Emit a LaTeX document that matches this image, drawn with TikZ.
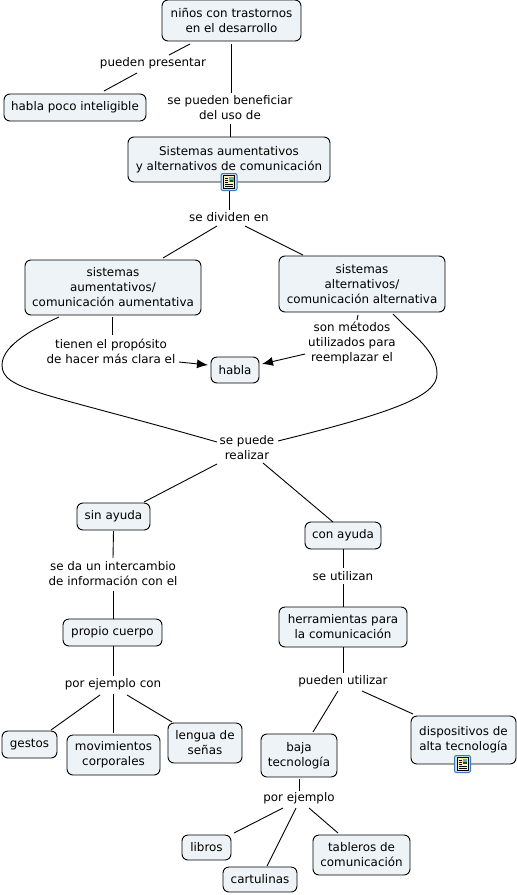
\documentclass[tikz,border=0pt]{standalone}
\usepackage{fontspec}
\setmainfont{DejaVu Sans}
\usetikzlibrary{arrows.meta}
\definecolor{conceptfill}{HTML}{EDF3F6}
\definecolor{iconblue}{HTML}{3A78C0}
\definecolor{iconrim}{HTML}{CFE2F5}
\definecolor{iconpage}{HTML}{FBF3B5}
\newcommand{\noteicon}[1]{
	\begin{scope}[shift={(#1)}]
		\draw[iconblue, fill=iconrim, rounded corners=2pt, line width=1pt](-8,-8.5) rectangle (8,8.5);
		\draw[black, fill=iconpage, line width=0.7pt](-5.5,-6.5) rectangle (5.5,6.5);
		\fill[iconblue!70](0,-5.5) rectangle (4.5,-0.5);
		\fill[green!40!black](0.5,-2) rectangle (4,-0.5);
		\foreach \ypos in {-4,-2,0}{
			\draw[black, line width=0.5pt](-4,\ypos) -- (-1,\ypos);
		}
		\foreach \ypos in {2,4}{
			\draw[black, line width=0.5pt](-4,\ypos) -- (4,\ypos);
		}
	\end{scope}
}
\begin{document}
\begin{tikzpicture}[x=1pt, y=-1pt, line width=0.9pt, font=\fontsize{11.9}{15}\selectfont, concept_node/.style={draw=black, fill=conceptfill, rounded corners=6pt, align=center, inner sep=0pt, line width=0.9pt}, link_node/.style={align=center, inner sep=0pt}, big_arrow/.style={-{Latex[length=11pt,width=9pt]}}]
				\useasboundingbox (0,0) rectangle (517,895);
				\node[concept_node, minimum width=139, minimum height=41](ninos) at (231.5,20.5){niños con trastornos\\en el desarrollo};
				\node[concept_node, minimum width=142, minimum height=27](poco) at (75,107.5){habla poco inteligible};
				\node[concept_node, minimum width=202, minimum height=45](sistemas) at (229,159.5){Sistemas aumentativos\\y alternativos de comunicación};
				\node[concept_node, minimum width=176, minimum height=55](aumentativa) at (113,287.5){sistemas\\aumentativos/\\comunicación aumentativa};
				\node[concept_node, minimum width=166, minimum height=56](alternativa) at (362,284){sistemas\\alternativos/\\comunicación alternativa};
				\node[concept_node, minimum width=48, minimum height=26](habla) at (235,370){habla};
				\node[concept_node, minimum width=73, minimum height=27](sin) at (113.5,516.5){sin ayuda};
				\node[concept_node, minimum width=76, minimum height=27](con) at (343,535.5){con ayuda};
				\node[concept_node, minimum width=99, minimum height=27](cuerpo) at (112.5,632.5){propio cuerpo};
				\node[concept_node, minimum width=128, minimum height=40](herramientas) at (343,627){herramientas para\\la comunicación};
				\node[concept_node, minimum width=55, minimum height=27](gestos) at (29.5,744.5){gestos};
				\node[concept_node, minimum width=93, minimum height=40](movimientos) at (113.5,755){movimientos\\corporales};
				\node[concept_node, minimum width=74, minimum height=40](lengua) at (205,743){lengua de\\señas};
				\node[concept_node, minimum width=76, minimum height=43](baja) at (299,755.5){baja\\tecnología};
				\node[concept_node, minimum width=105, minimum height=48](dispositivos) at (463.5,740){dispositivos de\\alta tecnología};
				\node[concept_node, minimum width=49, minimum height=25](libros) at (206.5,847.5){libros};
				\node[concept_node, minimum width=74, minimum height=25](cartulinas) at (260,879.5){cartulinas};
				\node[concept_node, minimum width=97, minimum height=40](tableros) at (361.5,855){tableros de\\comunicación};
				\node[link_node](presentar) at (153,63){pueden presentar};
				\node[link_node](beneficiar) at (230,108){se pueden beneficiar\\del uso de};
				\node[link_node](dividen) at (229,217){se dividen en};
				\node[link_node](proposito) at (111,351){tienen el propósito\\de hacer más clara el};
				\node[link_node](metodos) at (352,343){son métodos\\utilizados para\\reemplazar el};
				\node[link_node](realizar) at (247,448){se puede\\realizar};
				\node[link_node](intercambio) at (113,574){se da un intercambio\\de información con el};
				\node[link_node](ejemplocon) at (113,684){por ejemplo con};
				\node[link_node](utilizan) at (343,576){se utilizan};
				\node[link_node](utilizar) at (343,681){pueden utilizar};
				\node[link_node](ejemplo) at (299,798){por ejemplo};
				\coordinate (left_bend) at (2,365);
				\coordinate (right_bend) at (437,374);
				\draw ([shift={(-41.5,23.5)}]ninos.center) -- ([shift={(16,-8)}]presentar.center);
				\draw ([shift={(-16,10)}]presentar.center) -- ([shift={(29,-16.5)}]poco.center);
				\draw ([shift={(0,23.5)}]ninos.center) -- ([shift={(1.5,-15)}]beneficiar.center);
				\draw ([shift={(0.5,16)}]beneficiar.center) -- ([shift={(1.5,-22.5)}]sistemas.center);
				\draw ([shift={(0,30.5)}]sistemas.center) -- ([shift={(0,-7)}]dividen.center);
				\draw ([shift={(-12,9)}]dividen.center) -- ([shift={(50,-29.5)}]aumentativa.center);
				\draw ([shift={(16,9)}]dividen.center) -- ([shift={(-59,-29)}]alternativa.center);
				\draw ([shift={(-0.5,29.5)}]aumentativa.center) -- ([shift={(1.5,-16)}]proposito.center);
				\draw ([shift={(-4,31)}]alternativa.center) -- ([shift={(5,-23)}]metodos.center);
				\draw[big_arrow] ([shift={(68,11)}]proposito.center) -- ([shift={(-27,-5)}]habla.center);
				\draw[big_arrow] ([shift={(-47,11)}]metodos.center) -- ([shift={(27,-6)}]habla.center);
				\draw ([shift={(-54,29.5)}]aumentativa.center) .. controls (35,328) and (2,345) .. (left_bend) .. controls (2,390) and (42,392) .. ([shift={(-30,-6)}]realizar.center);
				\draw ([shift={(31,30)}]alternativa.center) .. controls (415,337) and (437,352) .. (right_bend) .. controls (437,396) and (395,412) .. ([shift={(31,-7)}]realizar.center);
				\draw ([shift={(-30,16)}]realizar.center) -- ([shift={(30.5,-14.5)}]sin.center);
				\draw ([shift={(16,15)}]realizar.center) -- ([shift={(-10,-13.5)}]con.center);
				\draw ([shift={(0,14.5)}]sin.center) -- ([shift={(0,-16)}]intercambio.center);
				\draw ([shift={(0,17)}]intercambio.center) -- ([shift={(0.5,-13.5)}]cuerpo.center);
				\draw ([shift={(0.5,13.5)}]cuerpo.center) -- ([shift={(0,-8)}]ejemplocon.center);
				\draw ([shift={(-13,11)}]ejemplocon.center) -- ([shift={(21.5,-14.5)}]gestos.center);
				\draw ([shift={(0,10)}]ejemplocon.center) -- ([shift={(-0.5,-22)}]movimientos.center);
				\draw ([shift={(14,11)}]ejemplocon.center) -- ([shift={(-33,-21)}]lengua.center);
				\draw ([shift={(0,13.5)}]con.center) -- ([shift={(0,-8)}]utilizan.center);
				\draw ([shift={(0,8)}]utilizan.center) -- ([shift={(0,-20)}]herramientas.center);
				\draw ([shift={(0,20)}]herramientas.center) -- ([shift={(0,-8)}]utilizar.center);
				\draw ([shift={(-5,10)}]utilizar.center) -- ([shift={(14,-23.5)}]baja.center);
				\draw ([shift={(19,10)}]utilizar.center) -- ([shift={(-50.5,-26)}]dispositivos.center);
				\draw ([shift={(0,23.5)}]baja.center) -- ([shift={(0,-7)}]ejemplo.center);
				\draw ([shift={(-16,10)}]ejemplo.center) -- ([shift={(27.5,-14.5)}]libros.center);
				\draw ([shift={(-3,10)}]ejemplo.center) -- ([shift={(7,-13.5)}]cartulinas.center);
				\draw ([shift={(10,10)}]ejemplo.center) -- ([shift={(-23.5,-22)}]tableros.center);
				\noteicon{229,182}
				\noteicon{462.5,764}
			\end{tikzpicture}
\end{document}
